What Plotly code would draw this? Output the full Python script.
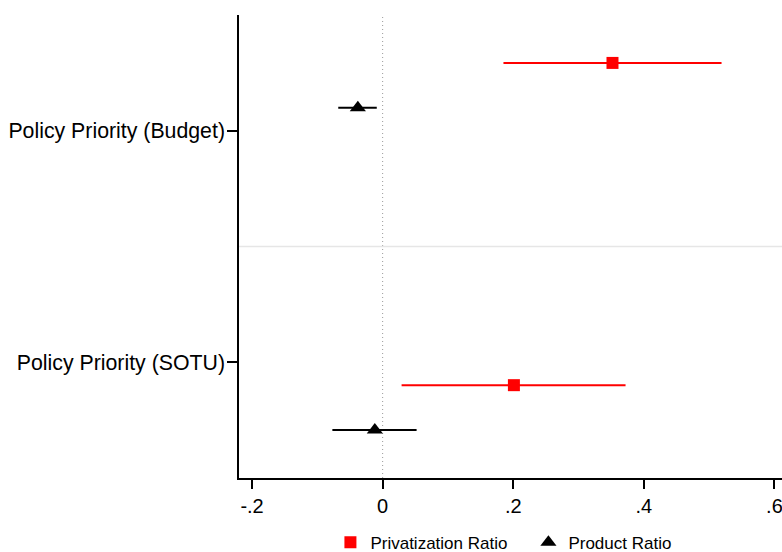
import plotly.graph_objects as go

categories = ["Policy Priority (Budget)", "Policy Priority (SOTU)"]
series_names = ["Privatization Ratio", "Product Ratio"]

priv_coef = [0.352, 0.201]
priv_lo = [0.185, 0.029]
priv_hi = [0.519, 0.372]

prod_coef = [-0.038, -0.012]
prod_lo = [-0.068, -0.077]
prod_hi = [-0.009, 0.052]

x_ticks = [-0.2, 0, 0.2, 0.4, 0.6]
x_tick_labels = ["-.2", "0", ".2", ".4", ".6"]

# layout offsets of each series within a category (positions, not data)
priv_offset = [-0.293, 0.099]
prod_offset = [-0.099, 0.293]

cat_pos = [1, 2]

fig = go.Figure()

def add_series(name, coef, lo, hi, offs, color, symbol, size):
    ys = [c + o for c, o in zip(cat_pos, offs)]
    fig.add_trace(go.Scatter(
        x=coef, y=ys, mode="markers", name=name,
        marker=dict(color=color, symbol=symbol, size=size, line=dict(width=0)),
        error_x=dict(type="data", symmetric=False,
                     array=[h - c for h, c in zip(hi, coef)],
                     arrayminus=[c - l for c, l in zip(coef, lo)],
                     color=color, thickness=2, width=0),
    ))

add_series(series_names[0], priv_coef, priv_lo, priv_hi, priv_offset, "#ff0000", "square", 12)
add_series(series_names[1], prod_coef, prod_lo, prod_hi, prod_offset, "#000000", "triangle-up", 14)

fig.add_shape(type="line", xref="x", yref="paper", x0=0, x1=0, y0=0, y1=1,
              line=dict(color="#999999", width=1, dash="1px,3px"), layer="below")
fig.add_shape(type="line", xref="paper", yref="y", x0=0, x1=1, y0=1.5, y1=1.5,
              line=dict(color="#e6e6e6", width=1.5), layer="below")

fig.update_layout(
    width=782, height=552,
    margin=dict(l=239, r=0, t=15, b=74, autoexpand=False),
    paper_bgcolor="white", plot_bgcolor="white",
    font=dict(family="Liberation Sans, Arial, sans-serif", size=21.3, color="black"),
    showlegend=True,
    legend=dict(orientation="h", x=0.533, xanchor="center",
                yref="container", y=0.017, yanchor="middle",
                font=dict(size=17), itemwidth=30, traceorder="normal",
                entrywidth=153),
    xaxis=dict(range=[-0.22, 0.6116], tickvals=x_ticks, ticktext=x_tick_labels,
               tickfont=dict(size=20), ticklabeloverflow="allow",
               showgrid=False, zeroline=False, showline=True, linecolor="black",
               linewidth=1.5, ticks="outside", ticklen=9, tickwidth=1.5, tickcolor="black"),
    yaxis=dict(range=[2.5, 0.5], tickvals=cat_pos, ticktext=categories,
               ticklabelstandoff=-2,
               showgrid=False, zeroline=False, showline=True, linecolor="black",
               linewidth=1.5, ticks="outside", ticklen=10, tickwidth=1.5, tickcolor="black"),
)

fig.write_html("out.html", config={"displayModeBar": False},
               post_script="document.body.style.margin='0';document.body.style.overflow='hidden';")
